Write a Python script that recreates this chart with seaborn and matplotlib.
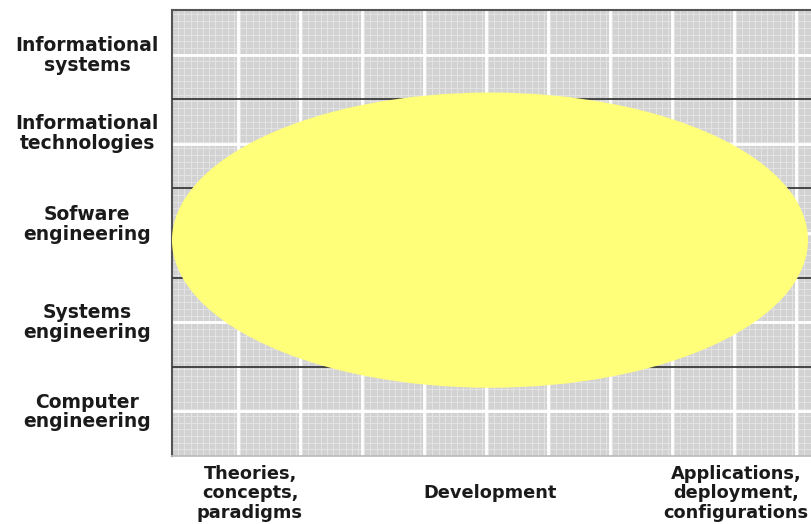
import matplotlib
matplotlib.use("Agg")
import matplotlib.pyplot as plt
from matplotlib.patches import Ellipse
import numpy as np
import seaborn as sns

# rows (bottom to top) and their label positions
row_labels = ["Computer\nengineering", "Systems\nengineering", "Sofware\nengineering",
              "Informational\ntechnologies", "Informational\nsystems"]
row_label_pos = [0.52, 1.52, 2.62, 3.64, 4.52]
row_edges = [1, 2, 3, 4]

# x axis in pixel-like units across the panel
col_labels = ["Theories,\nconcepts,\nparadigms", "Development", "Applications,\ndeployment,\nconfigurations"]
col_label_pos = [78, 318, 564]
col_lines = [66 + 62 * k for k in range(10)]
x_max = 639

# the yellow area
area_center = (318, 2.42)
area_size = (636, 3.31)

sns.set_theme(style="white")
plt.rcParams["font.family"] = ["DejaVu Sans"]

fig = plt.figure(figsize=(8.11, 5.24), dpi=100)
ax = fig.add_axes([172 / 811, 68 / 524, 639 / 811, 446 / 524])
ax.set_facecolor("#d2d2d2")
ax.set_xlim(0, x_max)
ax.set_ylim(0, 5)

# fine grid
for xv in np.arange(0, x_max, 6.2):
    ax.axvline(xv, color="#e6e6e6", lw=0.6, zorder=1)
for yv in np.arange(0, 5, 0.075):
    ax.axhline(yv, color="#e6e6e6", lw=0.6, zorder=1)
# bold white grid
for xv in col_lines:
    ax.axvline(xv, color="white", lw=2, zorder=2)
for yv in np.arange(0.5, 5, 1):
    ax.axhline(yv, color="white", lw=2, zorder=2)
for yv in row_edges:
    ax.axhline(yv, color="#3a3a3a", lw=1.3, zorder=3)

ax.add_patch(Ellipse(area_center, area_size[0], area_size[1], facecolor="#ffff7a",
                     edgecolor="none", zorder=4))

ax.set_yticks(row_label_pos)
ax.set_yticklabels(row_labels, fontsize=13.5, fontweight="bold", color="#1a1a1a",
                   ha="center", linespacing=1.05)
ax.set_xticks(col_label_pos)
ax.set_xticklabels(col_labels, fontsize=12.8, fontweight="bold", color="#1a1a1a",
                   va="center", linespacing=1.12)
ax.tick_params(axis="y", length=0, pad=61)
ax.tick_params(axis="x", length=0, pad=27)

for side in ["left", "top"]:
    ax.spines[side].set_color("#555555")
    ax.spines[side].set_linewidth(1.5)
ax.spines["bottom"].set_color("#bbbbbb")
ax.spines["right"].set_visible(False)

fig.savefig("out.png", dpi=100)
